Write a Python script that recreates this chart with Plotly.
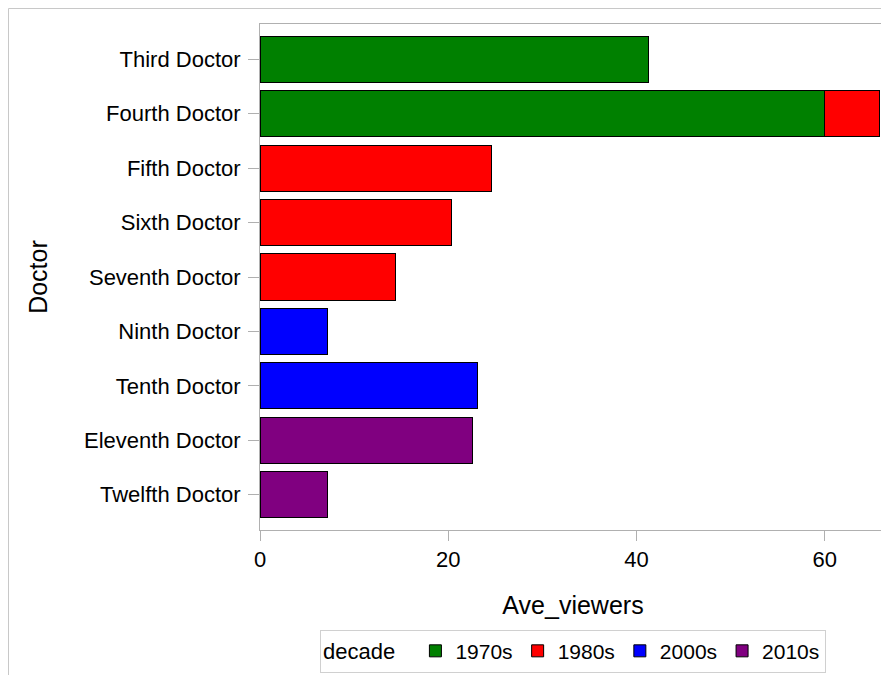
import plotly.graph_objects as go

doctors = ["Third Doctor", "Fourth Doctor", "Fifth Doctor", "Sixth Doctor",
           "Seventh Doctor", "Ninth Doctor", "Tenth Doctor", "Eleventh Doctor",
           "Twelfth Doctor"]
decades = ["1970s", "1980s", "2000s", "2010s"]
v1970s = [41.3, 60.0, None, None, None, None, None, None, None]
v1980s = [None, 5.8, 24.6, 20.3, 14.4, None, None, None, None]
v2000s = [None, None, None, None, None, 7.2, 23.1, None, None]
v2010s = [None, None, None, None, None, None, None, 22.6, 7.2]
colors = ["#008000", "#ff0000", "#0000ff", "#800080"]

series = [v1970s, v1980s, v2000s, v2010s]
FONT = "Liberation Sans, Arial, sans-serif"

W, H = 881, 667
L, R, T, B = 252, 3, 16, 145
PW, PH = W - L - R, H - T - B

fig = go.Figure()
for name, vals, col in zip(decades, series, colors):
    fig.add_trace(go.Bar(
        y=doctors, x=vals, orientation="h", name=name,
        marker=dict(color=col, line=dict(color="black", width=1)),
        width=0.85,
    ))

fig.update_layout(
    width=W, height=H,
    barmode="stack",
    plot_bgcolor="white", paper_bgcolor="white",
    font=dict(family=FONT, size=22, color="black"),
    margin=dict(l=L, r=R, t=T, b=B, autoexpand=False),
    legend=dict(
        orientation="h", x=0.5, xanchor="center", y=-0.197, yanchor="top",
        bordercolor="#d0d0d0", borderwidth=1,
        title=dict(text="decade  ", side="left", font=dict(size=22)),
        font=dict(size=21), traceorder="normal",
        itemwidth=30,
    ),
    shapes=[
        dict(type="line", xref="paper", yref="paper",
             x0=(0.5 - L) / PW, x1=1.2, y0=(PH + T - 0.5) / PH, y1=(PH + T - 0.5) / PH,
             line=dict(color="#c8c8c8", width=1), layer="below"),
        dict(type="line", xref="paper", yref="paper",
             x0=(0.5 - L) / PW, x1=(0.5 - L) / PW, y0=(PH + T - 0.5) / PH, y1=-0.4,
             line=dict(color="#c8c8c8", width=1), layer="below"),
    ],
)
fig.update_xaxes(
    range=[0, 66.5], tickvals=[0, 20, 40, 60], ticks="outside", ticklen=10,
    tickcolor="#b0b0b0", showline=True, linecolor="#b0b0b0", mirror=True,
    showgrid=False, zeroline=False, automargin=False,
    title=dict(text="Ave_viewers", font=dict(size=25), standoff=25),
)
fig.update_yaxes(
    range=[8.65, -0.65], ticks="outside", ticklen=11, tickcolor="#b0b0b0",
    showline=True, linecolor="#b0b0b0", mirror=True, showgrid=False,
    automargin=False, tickfont=dict(size=22), ticklabelstandoff=3,
    title=dict(text="Doctor", font=dict(size=25), standoff=29),
)
fig.write_html("out.html")
